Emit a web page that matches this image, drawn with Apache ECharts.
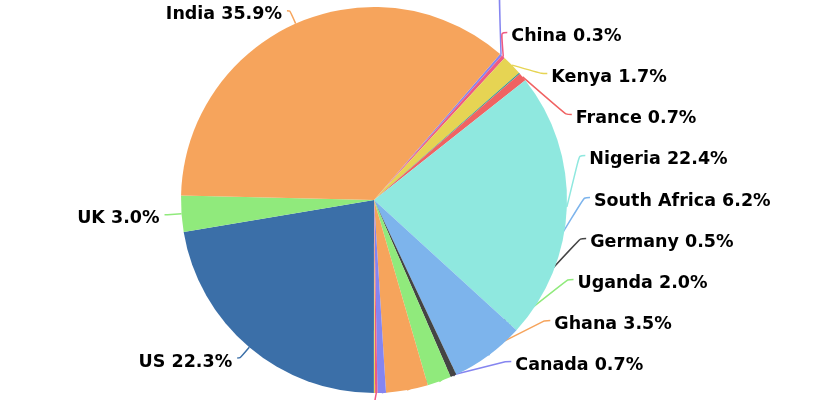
<!DOCTYPE html>
<html>
<head>
<meta charset="utf-8">
<script src="https://cdn.jsdelivr.net/npm/echarts@6/dist/echarts.min.js"></script>
<style>html,body{margin:0;padding:0;background:#fff}#c{width:840px;height:400px}</style>
</head>
<body>
<div id="c"></div>
<script>
// clockwise order starting just right of India's edge
const categories = ['Russia','China','Kenya','Japan','France','Nigeria','South Africa','Germany','Uganda','Ghana','Canada','Australia','Brazil','US','UK','India'];
const shares = [0.2,0.3,1.7,0.1,0.7,22.4,6.2,0.5,2.0,3.5,0.7,0.2,0.1,22.3,3.0,35.9];
const colors = ['#8585f0','#ef5a82','#e6d453','#3a9b8f','#f06262','#8fe8df','#7db4ec','#444444','#90ea7c','#f6a45c','#8585f0','#ef5a82','#e6d453','#3b6fa8','#90ea7c','#f6a45c'];
const hiddenLabels = ['Japan','Brazil'];

const CX = 374, CY = 200, R0 = 193;
// label guide settings
const LEFT_LEN = 14, LEFT_LEN2 = 3, GAP = 5;
const RIGHT_A = 220, RIGHT_B = 212, RIGHT_CY = 203, RIGHT_LEN2 = 6, RIGHT_GAP = 4;

function layoutLabel(p) {
  const pts = p.labelLinePoints;
  if (!pts || !pts.length) return {};
  const e = pts[0];
  const r = p.labelRect;
  if (p.align === 'left') {
    let yc = r.y + r.height / 2 + 1;
    const dy = yc - RIGHT_CY;
    let x = CX + RIGHT_A * Math.sqrt(Math.max(0, 1 - dy * dy / (RIGHT_B * RIGHT_B)));
    x = Math.max(x, e[0] + 8);
    if (yc > CY + R0) { // below the pie: drop straight down
      x = e[0] + 6;
      yc += 12;
    }
    const ly = yc - 4;
    return {
      x: x, y: yc, align: 'left', verticalAlign: 'middle',
      labelLinePoints: [[e[0], e[1]], [x - RIGHT_GAP - RIGHT_LEN2, ly], [x - RIGHT_GAP, ly]]
    };
  } else {
    const ux = (e[0] - CX) / R0, uy = (e[1] - CY) / R0;
    const p1 = [CX + (R0 + LEFT_LEN) * ux, CY + (R0 + LEFT_LEN) * uy];
    const p2 = [p1[0] - LEFT_LEN2, p1[1]];
    return {
      x: p2[0] - GAP, y: p1[1] + 4, align: 'right', verticalAlign: 'middle',
      labelLinePoints: [[e[0], e[1]], p1, p2]
    };
  }
}

const chart = echarts.init(document.getElementById('c'), null, {renderer:'canvas'});
chart.setOption({
  animation:false,
  color: colors,
  series:[{
    type:'pie',
    left:0, right:0, top:-26, bottom:-26,
    center:[CX, CY + 26],
    radius:R0,
    startAngle:49.2,
    clockwise:true,
    avoidLabelOverlap:true,
    label:{
      show:true,
      formatter:(p)=>p.name+' '+p.value.toFixed(1)+'%',
      fontFamily:'DejaVu Sans',
      fontWeight:'bold',
      fontSize:17.5,
      lineHeight:39,
      color:'#000'
    },
    labelLine:{show:true,length:13,length2:8,smooth:true,lineStyle:{width:1.5}},
    labelLayout: layoutLabel,
    emphasis:{disabled:true},
    data: categories.map((n,i)=>({name:n,value:shares[i],
      label: hiddenLabels.includes(n)?{show:false}:undefined,
      labelLine: hiddenLabels.includes(n)?{show:false}:undefined}))
  }]
});
</script>
</body>
</html>
